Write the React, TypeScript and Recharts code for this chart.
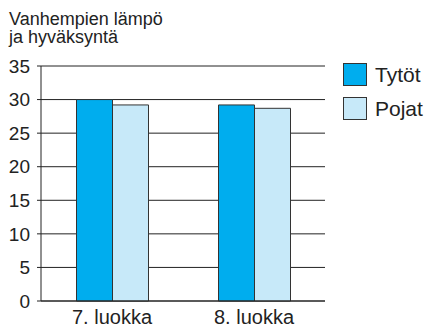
import React from 'react';
import { BarChart, Bar, XAxis, YAxis, CartesianGrid } from 'recharts';

const grades = ['7. luokka', '8. luokka'];
const girls = [30, 29.2];
const boys = [29.2, 28.7];
const yTicks = [0, 5, 10, 15, 20, 25, 30, 35];

const series = [
  { key: 'girls', name: 'Tytöt', fill: '#00adee' },
  { key: 'boys', name: 'Pojat', fill: '#c7e9f9' },
];

const data = grades.map((grade, i) => ({ grade, girls: girls[i], boys: boys[i] }));

const font = '"Liberation Sans", Arial, sans-serif';
const ink = '#222';

export default function App() {
  return (
    <div style={{ position: 'absolute', left: 0, top: 0, width: 428, height: 328, background: '#fff' }}>
      <div
        style={{
          position: 'absolute',
          left: 9,
          top: 10,
          fontFamily: font,
          fontSize: 18,
          lineHeight: '18px',
          color: ink,
        }}
      >
        Vanhempien lämpö
        <br />
        ja hyväksyntä
      </div>

      {/* legend, stacked to the right of the plot */}
      <div style={{ position: 'absolute', left: 343, top: 63, fontFamily: font }}>
        {series.map((s) => (
          <div key={s.key} style={{ display: 'flex', alignItems: 'center', height: 23, marginBottom: 11 }}>
            <span
              style={{
                width: 22,
                height: 21,
                background: s.fill,
                border: '1px solid #333',
                marginRight: 8,
              }}
            />
            <span style={{ fontSize: 21, color: ink }}>{s.name}</span>
          </div>
        ))}
      </div>

      <BarChart
        width={428}
        height={328}
        data={data}
        margin={{ top: 66, right: 103, bottom: 0, left: 0 }}
        barCategoryGap="25%"
        barGap={0}
      >
        <CartesianGrid vertical={false} stroke={ink} strokeOpacity={1} />
        <XAxis
          dataKey="grade"
          height={27}
          tickLine={false}
          tickSize={0}
          tickMargin={9}
          axisLine={{ stroke: ink }}
          tick={{ fill: ink, fontSize: 20, fontFamily: font }}
        />
        <YAxis
          domain={[0, 35]}
          ticks={yTicks}
          width={41}
          tickSize={4}
          tickMargin={7}
          interval={0}
          axisLine={{ stroke: ink }}
          tickLine={{ stroke: ink }}
          tick={{ fill: ink, fontSize: 19, fontFamily: font }}
        />
        <YAxis
          yAxisId="frame"
          orientation="right"
          width={0}
          tick={false}
          tickLine={false}
          axisLine={{ stroke: ink }}
        />
        {series.map((s) => (
          <Bar
            key={s.key}
            dataKey={s.key}
            name={s.name}
            fill={s.fill}
            stroke="#333"
            strokeWidth={1}
            isAnimationActive={false}
          />
        ))}
      </BarChart>
    </div>
  );
}
